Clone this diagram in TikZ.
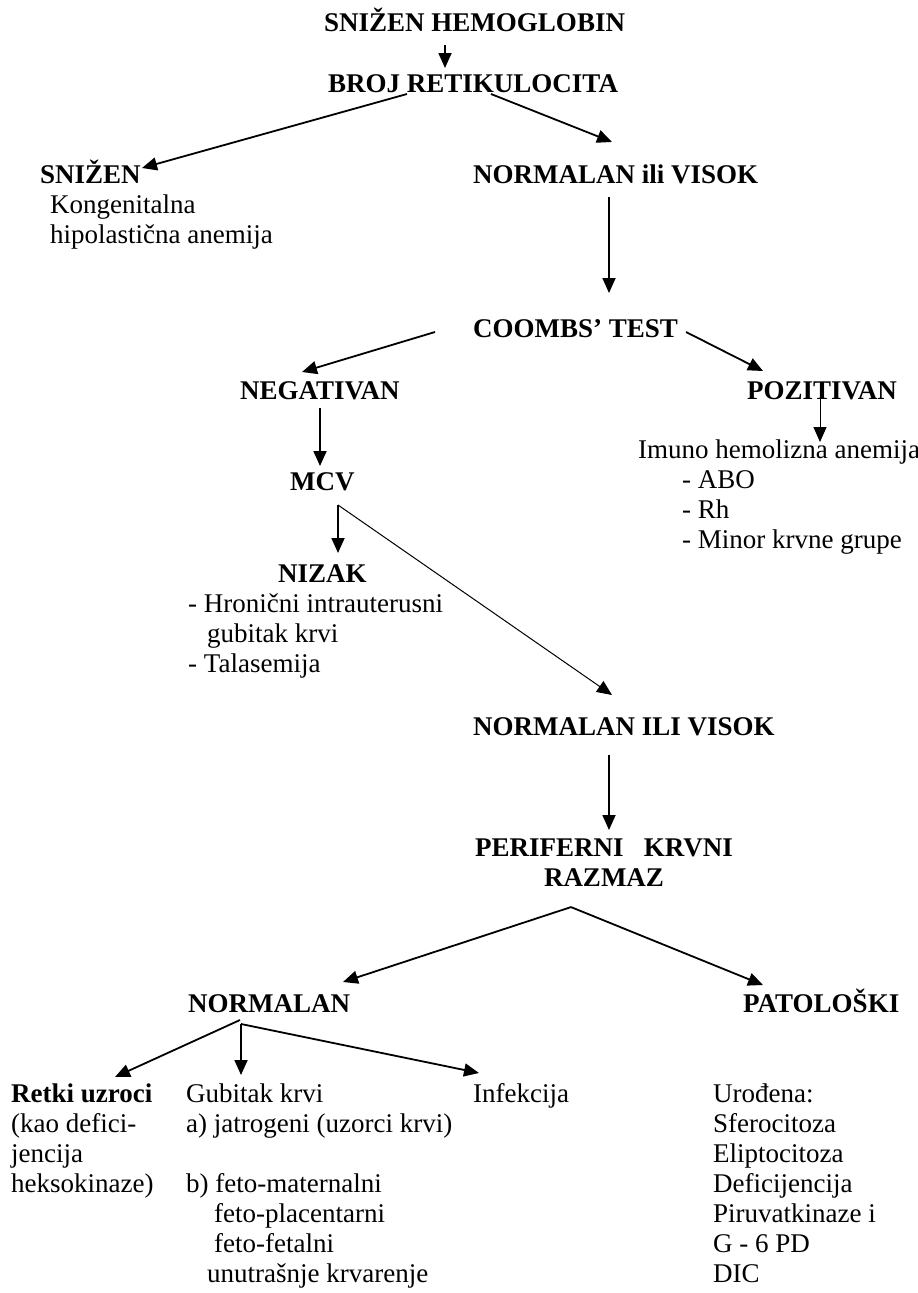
\documentclass[tikz,border=0pt]{standalone}
\usepackage{fontspec}
\setmainfont{Liberation Serif}
\usepackage{tikz}
\usetikzlibrary{arrows.meta}
\usetikzlibrary{calc}
\newcommand{\chartfont}{\fontsize{27}{30}\selectfont\lineskiplimit=-100pt\relax}

\begin{document}
\begin{tikzpicture}[x=1pt,y=-1pt,
  txt/.style={inner sep=0pt,anchor=base west,align=left,font=\chartfont},
  hd/.style={txt,font=\chartfont\bfseries},
  arr/.style={line width=1.8pt,-{Triangle[length=15pt,width=13pt]}},
  thinarr/.style={line width=1pt,-{Triangle[length=15pt,width=13pt]}}]
\useasboundingbox (0,0) rectangle (918,1293);

% top
\node[hd] (hemo) at (324,31) {SNIŽEN HEMOGLOBIN};
\node[hd] (broj) at (328,92) {BROJ RETIKULOCITA};
\draw[arr] ([shift={(121,14)}]hemo.base west) -- ([shift={(117,-24)}]broj.base west);

\node[hd] (snizen) at (40,183) {SNIŽEN};
\node[txt] (kongen) at (40,243) {\hspace*{10pt}Kongenitalna\\\hspace*{10pt}hipolastična anemija};
\node[hd] (normvis) at (473,183) {NORMALAN ili VISOK};
\draw[arr] ([shift={(79,2)}]broj.base west) -- ([shift={(102,-15)}]snizen.base west);
\draw[arr] ([shift={(163,2)}]broj.base west) -- ([shift={(139,-41)}]normvis.base west);

% coombs
\node[hd] (coombs) at (473,337) {COOMBS’ TEST};
\draw[arr] ([shift={(136,14)}]normvis.base west) -- ([shift={(136,-44)}]coombs.base west);
\node[hd] (neg) at (240,399) {NEGATIVAN};
\node[hd] (poz) at (747,399) {POZITIVAN};
\draw[arr] ([shift={(-38,-5)}]coombs.base west) -- ([shift={(62,-27)}]neg.base west);
\draw[arr] ([shift={(213,-5)}]coombs.base west) -- ([shift={(16,-28)}]poz.base west);

\node[txt] (imuno) at (638,548) {Imuno hemolizna anemija\\
  \hspace*{44pt}- ABO\\ \hspace*{44pt}- Rh\\ \hspace*{44pt}- Minor krvne grupe};
\draw[thinarr] ([shift={(73,-2)}]poz.base west) -- ([shift={(182,-106)}]imuno.base west);

% mcv
\node[hd] (mcv) at (290,490) {MCV};
\draw[arr] ([shift={(80,9)}]neg.base west) -- ([shift={(30,-24)}]mcv.base west);
\node[hd] (nizak) at (278,582) {NIZAK};
\node[txt] (nizaklist) at (188,672) {- Hronični intrauterusni\\
  \hspace*{19pt}gubitak krvi\\- Talasemija};
\node[hd] (normvis2) at (473,735) {NORMALAN ILI VISOK};
\draw[arr] ([shift={(48,15)}]mcv.base west) -- ([shift={(60,-29)}]nizak.base west);
\draw[thinarr] ([shift={(48,15)}]mcv.base west) -- ([shift={(139,-40)}]normvis2.base west);

% razmaz
\node[hd,anchor=north,align=center] (perif) at (604,839) {PERIFERNI \ \ KRVNI\\RAZMAZ};
\draw[arr] ([shift={(136,20)}]normvis2.base west) -- ([shift={(5,-9)}]perif.north);
\node[hd] (normalan) at (188,1012) {NORMALAN};
\node[hd] (patol) at (743,1012) {PATOLOŠKI};
\draw[arr] ([shift={(-33,20)}]perif.south) -- ([shift={(155,-30)}]normalan.base west);
\draw[arr] ([shift={(-33,20)}]perif.south) -- ([shift={(20,-27)}]patol.base west);

% bottom row
\node[txt] (retki) at (11,1192) {\textbf{Retki uzroci}\\(kao defici-\\jencija\\heksokinaze)};
\node[txt] (gubitak) at (186,1282) {Gubitak krvi\\a) jatrogeni (uzorci krvi)\\ \\b) feto-maternalni\\
  \hspace*{28pt}feto-placentarni\\ \hspace*{28pt}feto-fetalni\\ \hspace*{21pt}unutrašnje krvarenje};
\node[txt] (infek) at (473,1102) {Infekcija};
\node[txt] (urodena) at (713,1282) {Urođena:\\Sferocitoza\\Eliptocitoza\\Deficijencija\\Piruvatkinaze i\\G - 6 PD\\DIC};
\draw[arr] ([shift={(52,8)}]normalan.base west) -- ([shift={(104,-115)}]retki.base west);
\draw[arr] ([shift={(53,12)}]normalan.base west) -- ([shift={(55,-207)}]gubitak.base west);
\draw[arr] ([shift={(53,12)}]normalan.base west) -- ([shift={(6,-29)}]infek.base west);
\end{tikzpicture}
\end{document}
